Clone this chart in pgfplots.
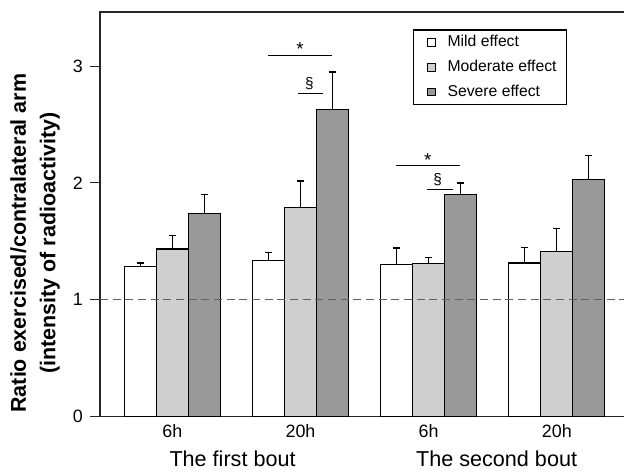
\documentclass[border=0pt]{standalone}
\usepackage{pgfplots}
\pgfplotsset{compat=1.18}
\usepackage{fontspec}
\setmainfont{Liberation Sans}

\definecolor{lightbar}{HTML}{CFCFCF}
\definecolor{darkbar}{HTML}{999999}

\pgfplotsset{
  sq/.style={legend image code/.code={
      \path[draw=none, fill=none] (0pt,0pt) -- (3.0pt,0pt);
      \draw[##1, line width=0.7pt] (3.0pt,-2.9pt) rectangle (8.8pt,2.9pt);}},
}

\begin{document}
\begin{tikzpicture}
\begin{axis}[
    scale only axis,
    width=396pt, height=303.5pt,
    xmin=-0.564, xmax=3.555,
    ymin=0, ymax=3.462,
    clip=false,
    ybar, bar width=0.25,
    axis line style={line width=0.9pt, black!85},
    xtick={0,1,2,3},
    xticklabels={6h,20h,6h,20h},
    xtick style={draw=none},
    ytick={0,1,2,3},
    ytick pos=left,
    tick align=outside,
    major tick length=7.5pt,
    ytick style={line width=0.8pt, black!85},
    /pgf/number format/assume math mode=true,
    xticklabel style={font=\fontsize{13.4}{15}\selectfont, anchor=base, yshift=-8pt},
    yticklabel style={font=\fontsize{13.4}{15}\selectfont, inner sep=0pt, xshift=-5.25pt},
    ylabel={Ratio exercised/contralateral arm\\(intensity of radioactivity)},
    ylabel style={align=center, font=\bfseries\fontsize{16.1}{22}\selectfont,
      at={(axis description cs:-0.123,0.429)}, anchor=center},
    legend style={at={(axis description cs:0.593,0.957)}, anchor=north west,
      draw=black, line width=0.8pt, inner xsep=7.5pt, inner ysep=1.5pt,
      font=\fontsize{11.8}{14}\selectfont,
      nodes={inner xsep=0pt, inner ysep=2pt, text height=9pt, text depth=2.5pt},
      row sep=3.1pt,
      /tikz/column 1/.style={column sep=8.8pt}},
    legend cell align=left,
    error bars/y dir=plus,
    error bars/y explicit,
    error bars/error bar style={line width=0.8pt, black},
    error bars/error mark options={rotate=90, mark size=2.6pt, line width=0.9pt, black},
]

% Mild effect
\addplot[sq, bar shift=-0.25, fill=white, draw=black, line width=0.8pt]
  coordinates {(0,1.283) +- (0,0.032) (1,1.340) +- (0,0.066)
               (2,1.300) +- (0,0.143) (3,1.315) +- (0,0.134)};
% Moderate effect
\addplot[sq, bar shift=0, fill=lightbar, draw=black, line width=0.8pt]
  coordinates {(0,1.435) +- (0,0.113) (1,1.790) +- (0,0.226)
               (2,1.309) +- (0,0.055) (3,1.417) +- (0,0.195)};
% Severe effect
\addplot[sq, bar shift=0.25, fill=darkbar, draw=black, line width=0.8pt]
  coordinates {(0,1.740) +- (0,0.160) (1,2.632) +- (0,0.318)
               (2,1.905) +- (0,0.095) (3,2.031) +- (0,0.202)};
\legend{Mild effect, Moderate effect, Severe effect}

\draw[black!62, line width=0.9pt, dash pattern=on 6pt off 3.5pt]
  (axis cs:-0.564,1) -- (axis cs:3.555,1);

% significance marks
\draw[line width=0.8pt] (axis cs:0.749,3.094) -- (axis cs:1.248,3.094);
\node[font=\fontsize{14}{16}\selectfont, inner sep=0pt] at (axis cs:0.996,3.145) {*};
\draw[line width=0.8pt] (axis cs:0.978,2.763) -- (axis cs:1.173,2.763);
\node[font=\fontsize{11.5}{13}\selectfont, inner sep=0pt] at (axis cs:1.069,2.852) {§};
\draw[line width=0.8pt] (axis cs:1.743,2.147) -- (axis cs:2.244,2.147);
\node[font=\fontsize{14}{16}\selectfont, inner sep=0pt] at (axis cs:1.992,2.193) {*};
\draw[line width=0.8pt] (axis cs:1.989,1.945) -- (axis cs:2.190,1.945);
\node[font=\fontsize{11.5}{13}\selectfont, inner sep=0pt] at (axis cs:2.070,2.025) {§};

\node[font=\fontsize{16.2}{18}\selectfont, anchor=base] at (axis cs:0.47,0) [yshift=-37pt] {The first bout};
\node[font=\fontsize{16.2}{18}\selectfont, anchor=base] at (axis cs:2.53,0) [yshift=-37pt] {The second bout};

\coordinate (ll) at (rel axis cs:0,0);
\end{axis}
\pgfresetboundingbox
\path[use as bounding box] (ll) ++(-75pt,-40.7pt) rectangle ++(468pt,353.25pt);
\end{tikzpicture}
\end{document}
